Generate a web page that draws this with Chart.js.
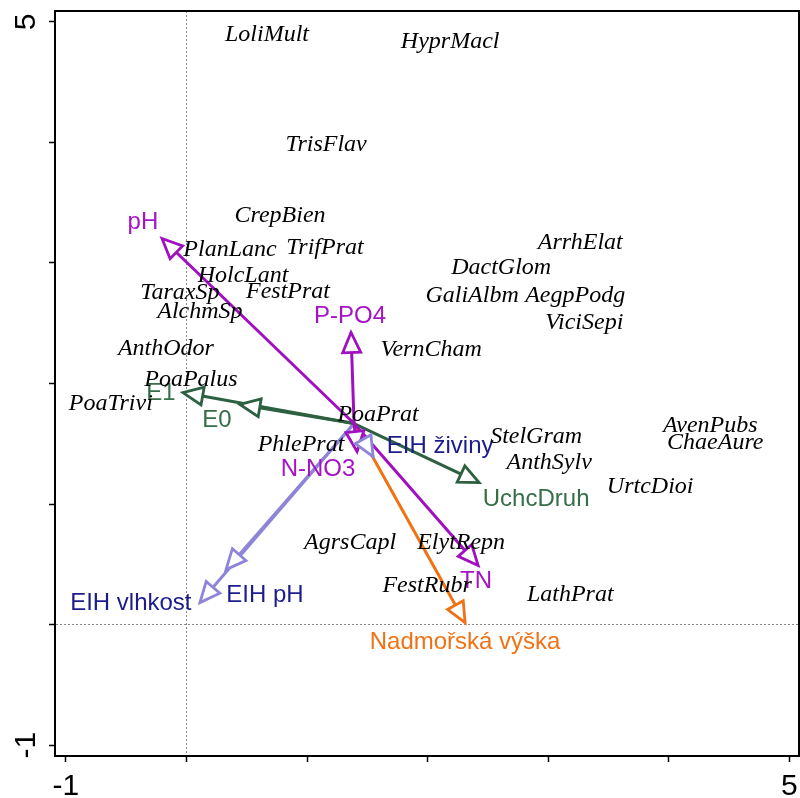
<!DOCTYPE html>
<html>
<head>
<meta charset="utf-8">
<script src="https://cdn.jsdelivr.net/npm/chart.js@4.4.1/dist/chart.umd.min.js"></script>
<style>
  html, body { margin: 0; padding: 0; background: #fff; }
  #wrap { width: 800px; height: 798px; }
</style>
</head>
<body>
<div id="wrap"><canvas id="biplot"></canvas></div>
<script>
// SPECIES (label centres, axis units)
const speciesNames = ["LoliMult", "HyprMacl", "TrisFlav", "CrepBien", "PlanLanc", "TrifPrat",
  "HolcLant", "TaraxSp", "FestPrat", "AlchmSp", "AnthOdor", "PoaPalus", "PoaTrivi", "VernCham",
  "ArrhElat", "DactGlom", "GaliAlbm", "AegpPodg", "ViciSepi", "PoaPrat", "PhlePrat", "StelGram",
  "AnthSylv", "AvenPubs", "ChaeAure", "UrtcDioi", "AgrsCapl", "ElytRepn", "FestRubr", "LathPrat"];
const speciesX = [0.668, 2.187, 1.158, 0.776, 0.361, 1.149,
  0.469, -0.054, 0.842, 0.112, -0.170, 0.037, -0.627, 2.029,
  3.266, 2.610, 2.369, 3.224, 3.299, 1.589, 0.950, 2.900,
  3.008, 4.344, 4.386, 3.846, 1.357, 2.278, 1.996, 3.183];
const speciesY = [4.896, 4.838, 3.983, 3.394, 3.112, 3.129,
  2.896, 2.755, 2.763, 2.598, 2.290, 2.033, 1.834, 2.282,
  3.170, 2.963, 2.730, 2.730, 2.506, 1.743, 1.494, 1.560,
  1.344, 1.651, 1.510, 1.145, 0.680, 0.680, 0.324, 0.249];

// ENVIRONMENTAL ARROWS
const arrowOrigin = [1.39, 1.668];
const envNames = ["pH", "P-PO4", "N-NO3", "TN", "E1", "E0", "UchcDruh",
  "Nadmořská výška", "EIH živiny", "EIH pH", "EIH vlhkost"];
const envTipX = [-0.203, 1.365, 1.415, 2.419, -0.029, 0.444, 2.427, 2.311, 1.548, 0.328, 0.112];
const envTipY = [3.203, 2.423, 1.436, 0.490, 1.925, 1.826, 1.178, 0.017, 1.394, 0.456, 0.183];
const envLabelX = [-0.361, 1.357, 1.091, 2.402, -0.212, 0.253, 2.900, 2.311, 2.104, 0.651, -0.461];
const envLabelY = [3.336, 2.556, 1.286, 0.357, 1.917, 1.693, 1.037, -0.149, 1.477, 0.241, 0.174];
const envGroup = ["chem", "chem", "chem", "chem", "habitat", "habitat", "habitat",
  "altitude", "eih", "eih", "eih"];

// AXES
const axisMinX = -1.09, axisMaxX = 5.08;
const axisMinY = -1.09, axisMaxY = 5.09;
const labeledTicks = [-1, 5];

// STYLE
const groupStyle = {
  chem: { line: "#a010c0", text: "#a414c4" },
  habitat: { line: "#2c6040", text: "#356e48" },
  altitude: { line: "#f07214", text: "#f07214" },
  eih: { line: "#8e84d8", text: "#1c1c8c" }
};
const sansFont = '"Liberation Sans", Arial, sans-serif';
const serifFont = '"Liberation Serif", "Times New Roman", serif';

// DATASETS
const datasets = [];

envNames.forEach((name, i) => {
  datasets.push({
    kind: "arrow",
    label: name,
    data: [{ x: arrowOrigin[0], y: arrowOrigin[1] }, { x: envTipX[i], y: envTipY[i] }],
    showLine: true,
    borderColor: groupStyle[envGroup[i]].line,
    borderWidth: 3,
    pointRadius: 0
  });
});

datasets.push({
  kind: "text",
  label: "env labels",
  texts: envNames,
  colors: envNames.map((n, i) => groupStyle[envGroup[i]].text),
  font: "24px " + sansFont,
  data: envNames.map((n, i) => ({ x: envLabelX[i], y: envLabelY[i] })),
  pointRadius: 0
});

datasets.push({
  kind: "text",
  label: "species",
  texts: speciesNames,
  colors: speciesNames.map(() => "#000"),
  font: "italic 24px " + serifFont,
  data: speciesNames.map((n, i) => ({ x: speciesX[i], y: speciesY[i] })),
  pointRadius: 0
});

// ARROWHEADS, LABELS, FRAME
const biplotPlugin = {
  id: "biplot",
  afterDatasetsDraw(chart) {
    const ctx = chart.ctx;
    const area = chart.chartArea;

    ctx.save();
    ctx.strokeStyle = "#000";
    ctx.lineWidth = 2;
    ctx.beginPath();
    ctx.moveTo(area.left, area.top);
    ctx.lineTo(area.right, area.top);
    ctx.lineTo(area.right, area.bottom);
    ctx.stroke();

    chart.data.datasets.forEach((ds, i) => {
      if (ds.kind !== "arrow") return;
      const pts = chart.getDatasetMeta(i).data;
      const a = pts[0], b = pts[1];
      const ang = Math.atan2(b.y - a.y, b.x - a.x);
      const len = 20, half = 9;
      const bx = b.x - Math.cos(ang) * len, by = b.y - Math.sin(ang) * len;
      const nx = -Math.sin(ang) * half, ny = Math.cos(ang) * half;
      ctx.beginPath();
      ctx.moveTo(b.x, b.y);
      ctx.lineTo(bx + nx, by + ny);
      ctx.lineTo(bx - nx, by - ny);
      ctx.closePath();
      ctx.fillStyle = "#fff";
      ctx.fill();
      ctx.strokeStyle = ds.borderColor;
      ctx.lineWidth = 2.8;
      ctx.lineJoin = "miter";
      ctx.stroke();
    });

    chart.data.datasets.forEach((ds, i) => {
      if (ds.kind !== "text") return;
      const pts = chart.getDatasetMeta(i).data;
      ctx.font = ds.font;
      ctx.textAlign = "center";
      ctx.textBaseline = "middle";
      pts.forEach((p, j) => {
        ctx.fillStyle = ds.colors[j];
        ctx.fillText(ds.texts[j], p.x, p.y);
      });
    });
    ctx.restore();
  }
};

function axisGrid() {
  return {
    drawOnChartArea: true,
    color: c => (c.tick && c.tick.value === 0 ? "#8a8a8a" : "rgba(0,0,0,0)"),
    lineWidth: 1,
    tickColor: "#000",
    tickLength: 6,
    tickWidth: 1.5
  };
}

new Chart(document.getElementById("biplot"), {
  type: "scatter",
  data: { datasets },
  options: {
    responsive: true,
    maintainAspectRatio: false,
    animation: false,
    layout: { padding: { top: 11, right: 1, left: 0, bottom: 0 } },
    plugins: { legend: { display: false }, tooltip: { enabled: false } },
    scales: {
      x: {
        type: "linear",
        min: axisMinX,
        max: axisMaxX,
        grid: axisGrid(),
        border: { display: true, color: "#000", width: 2, dash: [2, 2] },
        ticks: {
          stepSize: 1,
          includeBounds: false,
          autoSkip: false,
          maxRotation: 0,
          padding: 7,
          color: "#000",
          font: { family: sansFont, size: 30 },
          callback: v => (labeledTicks.includes(v) ? String(v) : "")
        },
        afterFit: s => { s.height = 42; s.paddingLeft = 0; s.paddingRight = 0; }
      },
      y: {
        type: "linear",
        min: axisMinY,
        max: axisMaxY,
        grid: axisGrid(),
        border: { display: true, color: "#000", width: 2, dash: [2, 2] },
        ticks: {
          stepSize: 1,
          includeBounds: false,
          autoSkip: false,
          minRotation: 90,
          maxRotation: 90,
          crossAlign: "center",
          padding: 9,
          color: "#000",
          font: { family: sansFont, size: 30 },
          callback: v => (labeledTicks.includes(v) ? String(v) : "")
        },
        afterFit: s => { s.width = 55; s.paddingTop = 0; s.paddingBottom = 0; }
      }
    }
  },
  plugins: [biplotPlugin]
});
</script>
</body>
</html>
